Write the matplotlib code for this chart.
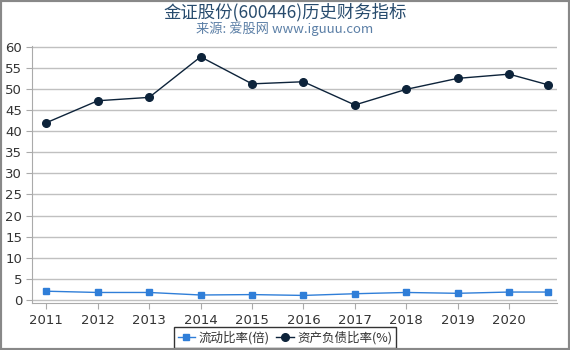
import matplotlib
matplotlib.use("Agg")
import matplotlib.pyplot as plt
from matplotlib.patches import Rectangle

plt.rcParams['font.family'] = ['DejaVu Sans', 'Noto Sans CJK SC']

years = ["2011", "2012", "2013", "2014", "2015", "2016", "2017", "2018", "2019", "2020"]
x_pos = [2011, 2012, 2013, 2014, 2015, 2016, 2017, 2018, 2019, 2020, 2020.75]
current_ratio = [2.1, 1.8, 1.8, 1.2, 1.3, 1.1, 1.5, 1.8, 1.6, 1.9, 1.9]
debt_ratio = [42.0, 47.2, 48.0, 57.6, 51.2, 51.7, 46.2, 49.9, 52.5, 53.5, 51.0]
yticks = list(range(0, 61, 5))

fig = plt.figure(figsize=(5.7, 3.5), dpi=100)
fig.patch.set_facecolor('white')
fig.patches.append(Rectangle((0, 0), 1, 1, transform=fig.transFigure, fill=False,
                             edgecolor='#888888', linewidth=3, zorder=10))

ax = fig.add_axes([0.057, 0.133, 0.920, 0.736])
ax.set_xlim(2010.73, 2020.93)
ax.set_ylim(-0.8, 60.2)
ax.set_yticks(yticks)
ax.set_xticks([int(y) for y in years])
ax.set_xticklabels(years)
ax.grid(axis='y', color='#c0c0c0', linewidth=1)
ax.set_axisbelow(True)
for s in ['top', 'right']:
    ax.spines[s].set_visible(False)
ax.spines['left'].set_color('#aaaaaa')
ax.spines['bottom'].set_color('#aaaaaa')
ax.tick_params(axis='both', colors='#aaaaaa', labelcolor='#333333', labelsize=9.5, length=4)

ax.plot(x_pos, current_ratio, color='#2f7ed8', marker='s', markersize=5, linewidth=1,
        label='流动比率(倍)', clip_on=False)
ax.plot(x_pos, debt_ratio, color='#0d233a', marker='o', markersize=5.5, linewidth=1,
        label='资产负债比率(%)', clip_on=False)

fig.text(0.5, 0.965, '金证股份(600446)历史财务指标', ha='center', va='center',
         fontsize=12.5, color='#274b6d', family=['Noto Sans CJK SC', 'DejaVu Sans'])
fig.text(0.5, 0.918, '来源: 爱股网 www.iguuu.com', ha='center', va='center',
         fontsize=9.5, color='#5b7fa6', family=['Noto Sans CJK SC', 'DejaVu Sans'])

leg = fig.legend(loc='center', bbox_to_anchor=(0.5, 0.035), ncol=2, frameon=True,
                 prop={'family': ['Noto Sans CJK SC', 'DejaVu Sans'], 'size': 9},
                 handlelength=1.4, handletextpad=0.3, columnspacing=0.5,
                 borderpad=0.3, borderaxespad=0, fancybox=False)
leg.get_frame().set_edgecolor('black')
leg.get_frame().set_linewidth(1)
for t in leg.get_texts():
    t.set_color('#333333')

fig.savefig('out.png', dpi=100)
